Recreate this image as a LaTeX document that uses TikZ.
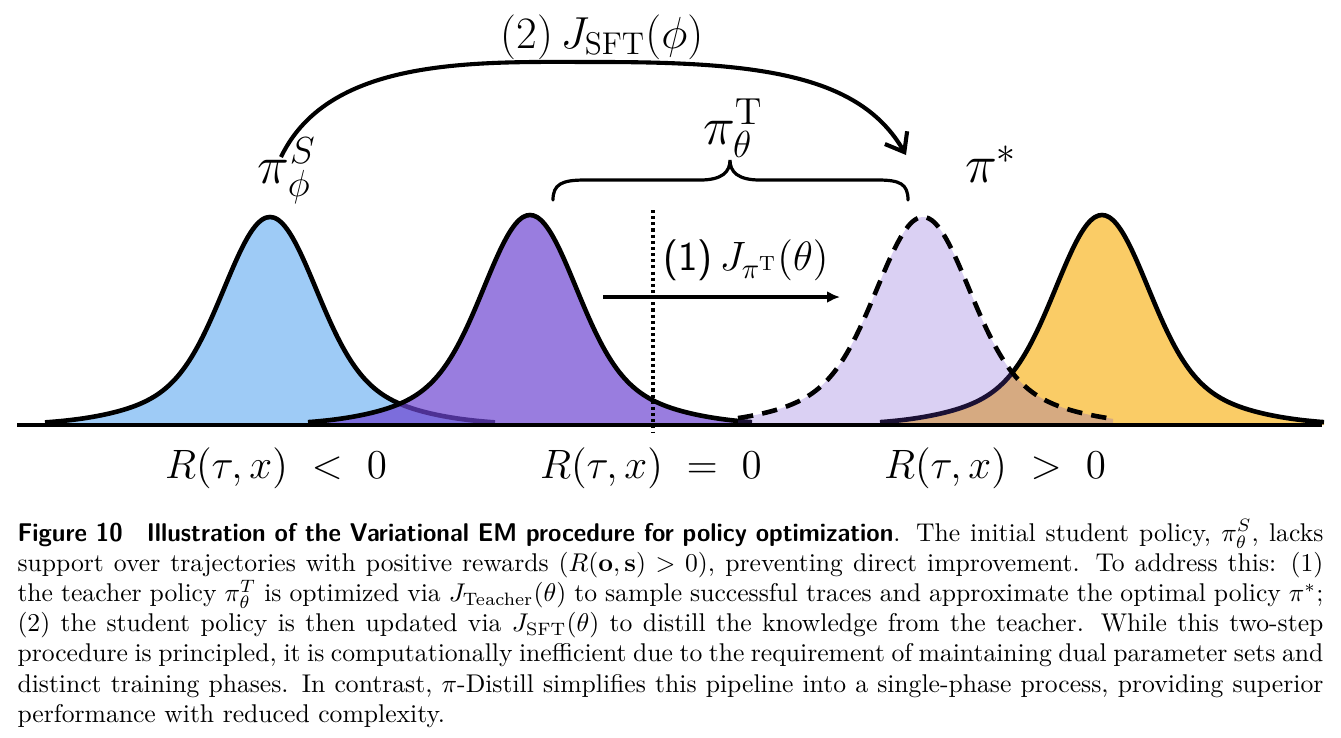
\RequirePackage{fix-cm}
\documentclass[tikz,border=0pt]{standalone}
\usepackage{graphicx}
\usetikzlibrary{arrows.meta}
\definecolor{bluefill}{RGB}{158,203,246}
\definecolor{purplebase}{RGB}{110,70,210}
\definecolor{orangefill}{RGB}{250,204,102}
\begin{document}
\begin{tikzpicture}[x=0.39pt,y=-0.39pt,
  declare function={bell(\u)=0.75*exp(-0.5*(\u/44)*(\u/44))+0.25*exp(-0.5*(\u/92)*(\u/92));},
  curveline/.style={line width=1.8pt, line join=round},
  axisline/.style={line width=1.9pt},
  bigmath/.style={font=\fontsize{17.5}{20}\selectfont, inner sep=0pt},
  pilabel/.style={font=\fontsize{21}{24}\selectfont, inner sep=0pt},
  rlabel/.style={font=\fontsize{16}{19}\selectfont, inner sep=0pt},
  captext/.style={font=\fontsize{10}{11.78}\selectfont, inner sep=0pt, text width=509.3pt, align=justify}]
\useasboundingbox[fill=white] (0,0) rectangle (1341,737);

% blue curve (student policy)
\fill[bluefill] (45,425) -- plot[domain=-225:225,samples=121,smooth] ({270+\x},{425-208*bell(\x)}) -- (495,425) -- cycle;
\draw[curveline] plot[domain=-225:225,samples=121,smooth] ({270+\x},{425-208*bell(\x)});

% purple curve (teacher policy)
\fill[purplebase,fill opacity=0.7] (308,425) -- plot[domain=-222:222,samples=121,smooth] ({530+\x},{425-210*bell(\x)}) -- (752,425) -- cycle;
\draw[curveline] plot[domain=-222:222,samples=121,smooth] ({530+\x},{425-210*bell(\x)});

% orange curve (optimal policy)
\fill[orangefill] (880,425) -- plot[domain=-222:222,samples=121,smooth] ({1102+\x},{425-210*bell(\x)}) -- (1324,425) -- cycle;
\draw[curveline] plot[domain=-222:222,samples=121,smooth] ({1102+\x},{425-210*bell(\x)});

% light purple dashed curve (updated teacher)
\fill[purplebase,fill opacity=0.25] (738,425) -- plot[domain=-185:190,samples=121,smooth] ({923+\x},{425-208*bell(\x)}) -- (1113,425) -- cycle;
\draw[curveline,dash pattern=on 6pt off 3.6pt] plot[domain=-185:190,samples=121,smooth] ({923+\x},{425-208*bell(\x)});

% axis
\draw[axisline] (17,425) -- (1322,425);

% dotted vertical line at R = 0
\draw[line width=1.3pt, dash pattern=on 1.2pt off 1.2pt] (653,210) -- (653,432);

% arrow (1)
\coordinate (a1s) at (603,297);
\coordinate (a1e) at (840,297);
\draw[line width=1.2pt, -{Latex[length=5pt,width=4.6pt]}] (a1s) -- (a1e);
\node[bigmath, font=\fontsize{16}{19}\selectfont] (lblone) at (746,260) {\textsf{(1)}\,$J_{\pi^{\mathrm{T}}}(\theta)$};

% brace over teacher policy
\draw[line width=1.25pt, line cap=round]
  (553,200) .. controls (553,184) and (562,180) .. (585,180) -- (700,180)
  .. controls (722,180) and (730,172) .. (730,160)
  .. controls (730,172) and (738,180) .. (760,180) -- (878,180)
  .. controls (900,180) and (908,184) .. (908,200);

% arrow (2)
\coordinate (a2s) at (281,157);
\coordinate (a2e) at (906,155);
\draw[line width=1.6pt, -{Straight Barb[length=6.5pt,width=10pt]}]
  (a2s) .. controls (330,55) and (480,62) .. (600,62)
        .. controls (760,62) and (860,75) .. (a2e);
\node[bigmath] (lbltwo) at (602,37) {(2)\,$J_{\mathrm{SFT}}(\phi)$};

% policy labels
\node[pilabel] (piS) at (287,171) {$\pi_\phi^S$};
\node[pilabel] (piT) at (733,128) {$\pi_\theta^{\mathrm{T}}$};
\node[pilabel] (piStar) at (991,164) {$\pi^*$};

% reward labels
\node[rlabel] (rneg) at (276,468) {$R(\tau,x)\ <\ 0$};
\node[rlabel] (rzero) at (651,468) {$R(\tau,x)\ =\ 0$};
\node[rlabel] (rpos) at (995,468) {$R(\tau,x)\ >\ 0$};

% caption
\node[captext, anchor=base west] (cap) at (17,541) {\resizebox{341.6pt}{\height}{\sffamily\bfseries Figure 10\quad Illustration of the Variational EM procedure for policy optimization}. The initial student policy, $\pi_\theta^S$, lacks\linebreak
support over trajectories with positive rewards ($R(\mathbf{o},\mathbf{s})>0$), preventing direct improvement. To address this: (1)\linebreak
the teacher policy $\pi_\theta^T$ is optimized via $J_{\mathrm{Teacher}}(\theta)$ to sample successful traces and approximate the optimal policy $\pi^*$;\linebreak
(2) the student policy is then updated via $J_{\mathrm{SFT}}(\theta)$ to distill the knowledge from the teacher. While this two-step\linebreak
procedure is principled, it is computationally inefficient due to the requirement of maintaining dual parameter sets and\linebreak
distinct training phases. In contrast, $\pi$-Distill simplifies this pipeline into a single-phase process, providing superior\linebreak
performance with reduced complexity.};
\end{tikzpicture}
\end{document}
